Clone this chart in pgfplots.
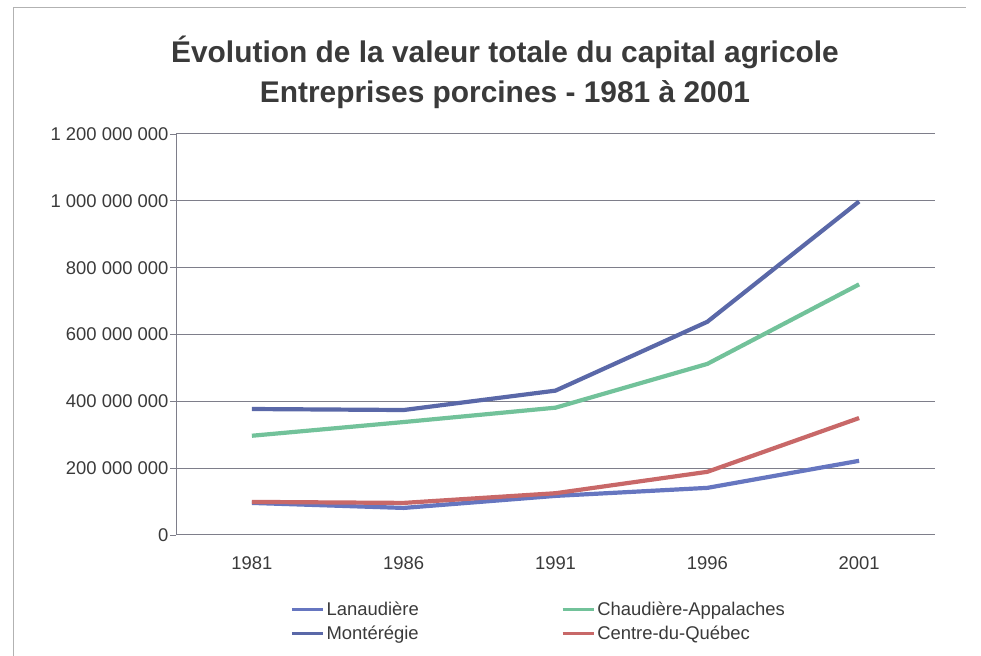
\documentclass[border=0pt]{standalone}
\usepackage{fontspec}
\setmainfont{Liberation Sans}
\usepackage{pgfplots}
\pgfplotsset{compat=1.18}
\definecolor{lanau}{HTML}{6676C0}
\definecolor{monte}{HTML}{5A68A8}
\definecolor{chaud}{HTML}{72C29A}
\definecolor{centre}{HTML}{C86868}
\definecolor{gridc}{HTML}{7E7E8A}
\definecolor{txt}{HTML}{3A3A3A}
\begin{document}
\begin{tikzpicture}[x=1bp,y=1bp]
\useasboundingbox (0,0) rectangle (981,656);
\draw[gray!60, line width=1bp] (13,0) -- (13,648) -- (966,648);
\node[font=\fontsize{30}{40}\selectfont\bfseries, text=txt, align=center] at (505,584)
  {Évolution de la valeur totale du capital agricole\\Entreprises porcines - 1981 à 2001};
\begin{axis}[
  at={(176bp,121bp)}, anchor=south west,
  scale only axis, width=759bp, height=401bp,
  xmin=-0.5, xmax=4.5, ymin=0, ymax=1200000000,
  scaled y ticks=false,
  xtick={0,1,2,3,4}, xticklabels={1981,1986,1991,1996,2001},
  extra x ticks={-0.5,0.5,1.5,2.5,3.5,4.5}, extra x tick labels={},
  extra x tick style={major tick length=6bp, tick style={gridc, line width=0.8bp}, grid=none},
  ytick={0,200000000,400000000,600000000,800000000,1000000000,1200000000},
  yticklabels={0,200 000 000,400 000 000,600 000 000,800 000 000,1 000 000 000,1 200 000 000},
  ymajorgrids, grid style={gridc, line width=1bp},
  major x tick style={draw=none},
  ytick style={gridc, line width=0.8bp},
  y tick label style={font=\fontsize{18.5}{22}\selectfont, text=txt, xshift=2bp},
  x tick label style={font=\fontsize{18.5}{22}\selectfont, text=txt, yshift=-12bp},
  major tick length=6bp,
  tick align=outside,
  axis x line*=bottom, axis y line*=left,
  x axis line style={gridc, line width=1bp},
  y axis line style={gridc, line width=1bp},
  clip=false,
  legend columns=2,
  legend style={at={(0.15,-0.162)}, anchor=north west, draw=none, fill=none,
    font=\fontsize{18.5}{22}\selectfont, text=txt,
    /tikz/every even column/.append style={column sep=140bp},
    row sep=5bp, inner sep=0pt,
    nodes={inner xsep=2bp}},
  legend cell align=left,
  legend image code/.code={\draw[#1, line width=3.5bp] (0bp,0bp) -- (31bp,0bp);},
]
\addplot[lanau, line width=4.2bp] coordinates {(0,96000000) (1,81000000) (2,117000000) (3,141000000) (4,222000000)};
\addlegendentry{Lanaudière}
\addplot[chaud, line width=4.2bp] coordinates {(0,297000000) (1,338000000) (2,381000000) (3,512000000) (4,750000000)};
\addlegendentry{Chaudière-Appalaches}
\addplot[monte, line width=4.2bp] coordinates {(0,377000000) (1,374000000) (2,432000000) (3,638000000) (4,998000000)};
\addlegendentry{Montérégie}
\addplot[centre, line width=4.2bp] coordinates {(0,99000000) (1,96000000) (2,125000000) (3,189000000) (4,350000000)};
\addlegendentry{Centre-du-Québec}
\end{axis}
\end{tikzpicture}
\end{document}
